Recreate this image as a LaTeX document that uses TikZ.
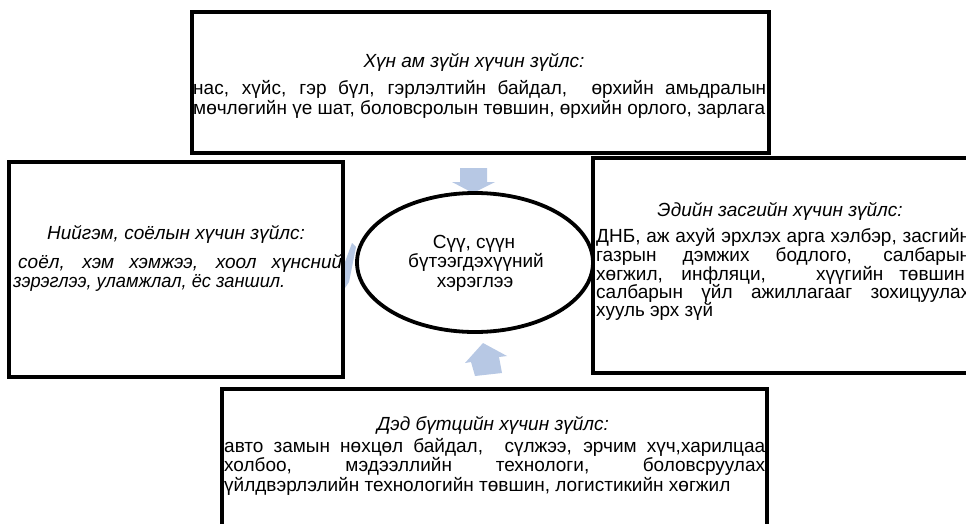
\documentclass[tikz,border=0pt]{standalone}
\usepackage{fontspec}
\setmainfont{Liberation Sans}
\newcommand\bodyfnt{\fontsize{19}{19.5}\selectfont}
\newcommand\ttlfnt{\fontsize{19}{19.5}\selectfont\itshape}
\newcommand\jl[2]{\setbox0=\hbox{#2}\ifdim\wd0>#1pt\relax\resizebox{#1pt}{\height}{\box0}\else\makebox[#1pt][s]{#2}\fi}
\definecolor{arrowblue}{HTML}{B7C8E4}
\begin{document}
\begin{tikzpicture}[x=1pt,y=-1pt,
  box/.style={draw=black,line width=3.8pt,fill=white},
  body/.style={anchor=base west,inner sep=0pt,font=\bodyfnt},
  ttl/.style={anchor=base,inner sep=0pt,font=\ttlfnt},
  blockarrow/.style={fill=arrowblue,draw=none}]
\useasboundingbox (0,0) rectangle (966,524);
\clip (0,0) rectangle (966,524);
% block arrows
\fill[blockarrow] (460,168) -- (487,168) -- (487,182) -- (495,182) -- (473,193) -- (452,182) -- (460,182) -- cycle;
\fill[blockarrow] (483,343) -- (507,356) -- (499,357) -- (502,373) -- (475,376) -- (471,362) -- (465,363) -- cycle;
\fill[blockarrow] (352,243) -- (356,247) -- (349,282) -- (345,288) -- (345,262) -- cycle;
% boxes
\draw[box] (192,12) rectangle (769,153);
\draw[box] (9,162) rectangle (343,377);
\draw[box] (593,158) rectangle (985,373);
\draw[box] (222,389) rectangle (767,540);
\draw[line width=3.8pt] (475,262.5) ellipse (118 and 69.5);
% top box text
\node[ttl] (toptitle) at (474,68) {Хүн ам зүйн хүчин зүйлс:};
\node[body] (top1) at (193,95) {\jl{573}{нас, хүйс, гэр бүл, гэрлэлтийн байдал, \ өрхийн амьдралын}};
\node[body] (top2) at (193,115) {\jl{572}{мөчлөгийн үе шат, боловсролын төвшин, өрхийн орлого, зарлага}};
% left box text
\node[ttl] (lefttitle) at (176,239) {Нийгэм, соёлын хүчин зүйлс:};
\node[body,font=\ttlfnt] (left1) at (18,268) {\jl{324}{соёл, хэм хэмжээ, хоол хүнсний}};
\node[body,font=\ttlfnt] (left2) at (13,287) {\jl{272}{зэрэглээ, уламжлал, ёс заншил.}};
% ellipse text
\node[body,anchor=base] (c1) at (474,248) {Сүү, сүүн};
\node[body,anchor=base] (c2) at (476,267) {бүтээгдэхүүний};
\node[body,anchor=base] (c3) at (475,287) {хэрэглээ};
% right box text
\node[ttl] (righttitle) at (780,216) {Эдийн засгийн хүчин зүйлс:};
\node[body] (r1) at (596,242) {\jl{374}{ДНБ, аж ахуй эрхлэх арга хэлбэр, засгийн}};
\node[body] (r2) at (596,261) {\jl{374}{газрын дэмжих бодлого, салбарын}};
\node[body] (r3) at (596,280) {\jl{374}{хөгжил, инфляци, \ \ хүүгийн төвшин,}};
\node[body] (r4) at (596,298) {\jl{374}{салбарын үйл ажиллагааг зохицуулах}};
\node[body] (r5) at (596,316) {\jl{117}{хууль эрх зүй}};
% bottom box text
\node[ttl] (bottitle) at (493,430) {Дэд бүтцийн хүчин зүйлс:};
\node[body] (b1) at (224,452) {\jl{541}{авто замын нөхцөл байдал, \ сүлжээ, эрчим хүч,харилцаа}};
\node[body] (b2) at (224,471) {\jl{541}{холбоо, мэдээллийн технологи, боловсруулах}};
\node[body] (b3) at (224,491) {үйлдвэрлэлийн технологийн төвшин, логистикийн хөгжил};
\end{tikzpicture}
\end{document}
